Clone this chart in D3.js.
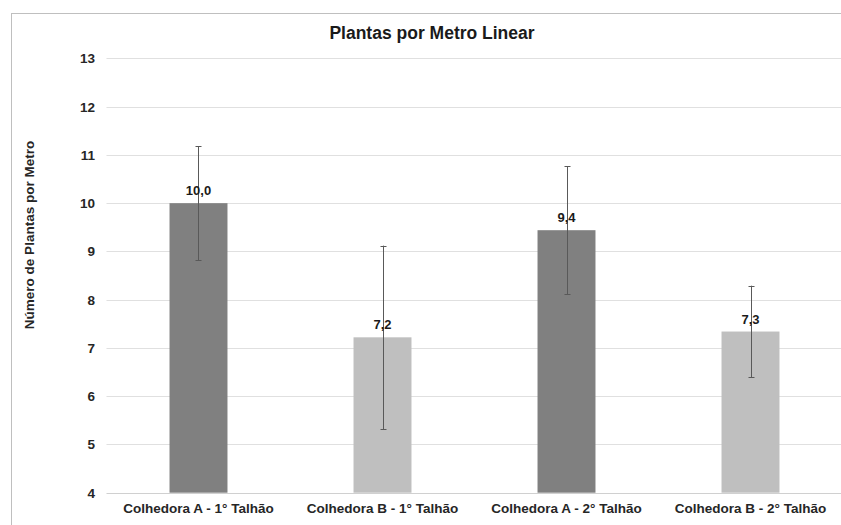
<!DOCTYPE html>
<html><head><meta charset="utf-8">
<script src="https://cdn.jsdelivr.net/npm/d3@7"></script>
<style>body{margin:0;background:#fff;overflow:hidden}svg{display:block}text{font-family:"Liberation Sans",Arial,sans-serif}</style>
</head><body>
<script>
const categories = ["Colhedora A - 1° Talhão","Colhedora B - 1° Talhão","Colhedora A - 2° Talhão","Colhedora B - 2° Talhão"];
const values = [10.0, 7.22, 9.44, 7.34];
const valueLabels = ["10,0","7,2","9,4","7,3"];
const errors = [1.18, 1.9, 1.33, 0.95];
const colors = ["#808080","#bfbfbf","#808080","#bfbfbf"];
const yTicks = [4,5,6,7,8,9,10,11,12,13];

(function(){
const W=841,H=525;
const svg=d3.select("body").append("svg").attr("width",W).attr("height",H);
// chart border
svg.append("rect").attr("x",11.5).attr("y",13.5).attr("width",W+20).attr("height",H+20)
  .attr("fill","none").attr("stroke","#bfbfbf");

const pL=106.5, pR=842.5, pT=58.4, pB=492.7;
const x=d3.scaleBand().domain(categories).range([pL,pR]).paddingInner(0.685).paddingOuter(0.3425);
const y=d3.scaleLinear().domain([4,13]).range([pB,pT]);

// gridlines
svg.append("g").selectAll("line").data(yTicks).join("line")
  .attr("x1",pL).attr("x2",pR).attr("y1",d=>Math.round(y(d))+0.5).attr("y2",d=>Math.round(y(d))+0.5)
  .attr("stroke",d=>d===4?"#d0d0d0":"#e0e0e0").attr("stroke-width",1.2);

// y tick labels
svg.append("g").selectAll("text").data(yTicks).join("text")
  .attr("x",95).attr("y",d=>y(d)).attr("dy","0.36em").attr("text-anchor","end")
  .attr("font-size",13.5).attr("font-weight","bold").attr("fill","#262626").text(d=>d);

// bars
svg.append("g").selectAll("rect").data(values).join("rect")
  .attr("x",(d,i)=>x(categories[i])).attr("width",x.bandwidth())
  .attr("y",d=>y(d)).attr("height",d=>y(4)-y(d)).attr("fill",(d,i)=>colors[i]);

// error bars
const eg=svg.append("g").attr("stroke","#595959").attr("stroke-width",1);
values.forEach((v,i)=>{
  const cx=Math.round(x(categories[i])+x.bandwidth()/2)+0.5;
  eg.append("line").attr("x1",cx).attr("x2",cx).attr("y1",y(v+errors[i])).attr("y2",y(v-errors[i]));
  [v+errors[i],v-errors[i]].forEach(e=>{
    eg.append("line").attr("x1",cx-3).attr("x2",cx+3).attr("y1",Math.round(y(e))+0.5).attr("y2",Math.round(y(e))+0.5);
  });
});

// value labels
svg.append("g").selectAll("text").data(values).join("text")
  .attr("x",(d,i)=>x(categories[i])+x.bandwidth()/2).attr("y",d=>y(d)-8)
  .attr("text-anchor","middle").attr("font-size",13).attr("font-weight","bold").attr("fill","#1a1a1a")
  .text((d,i)=>valueLabels[i]);

// category labels
svg.append("g").selectAll("text").data(categories).join("text")
  .attr("x",d=>x(d)+x.bandwidth()/2).attr("y",513)
  .attr("text-anchor","middle").attr("font-size",13.5).attr("font-weight","bold").attr("fill","#262626").text(d=>d);

// title
svg.append("text").attr("x",432).attr("y",38.5).attr("text-anchor","middle")
  .attr("font-size",17.5).attr("font-weight","bold").attr("fill","#1a1a1a").text("Plantas por Metro Linear");

// y axis title
svg.append("text").attr("transform","translate(34,235) rotate(-90)").attr("text-anchor","middle")
  .attr("font-size",13.5).attr("font-weight","bold").attr("fill","#262626").text("Número de Plantas por Metro");
})();
</script>
</body></html>
